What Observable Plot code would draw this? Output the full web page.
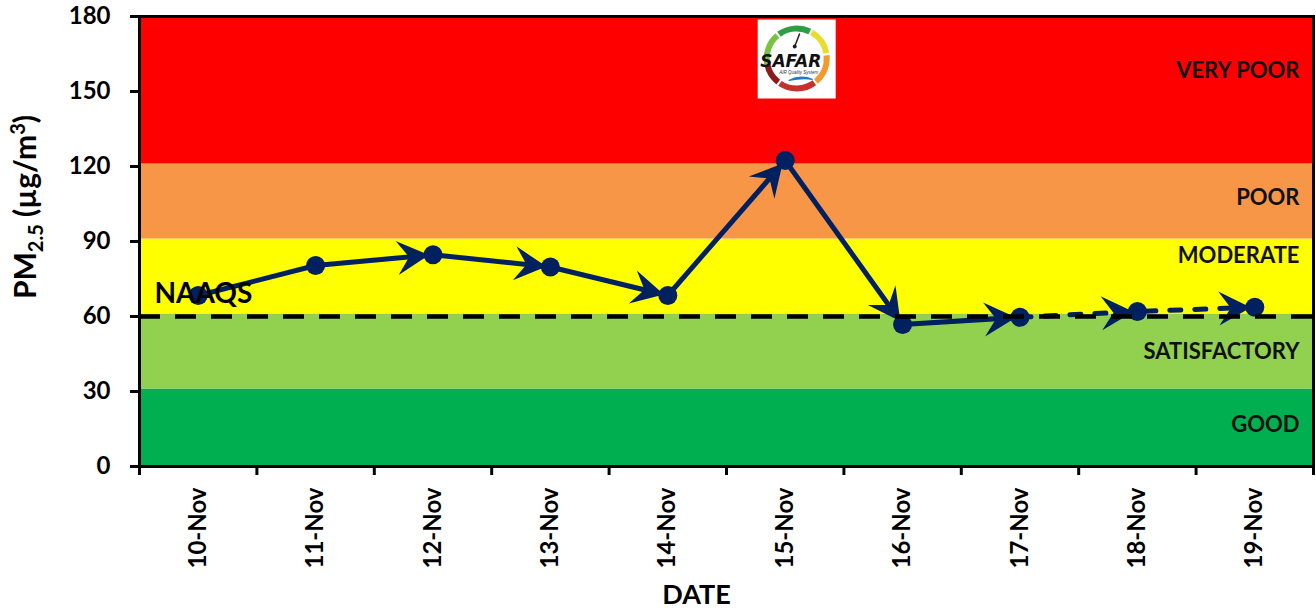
<!DOCTYPE html>
<html><head><meta charset="utf-8">
<script src="https://cdn.jsdelivr.net/npm/d3@7"></script>
<script src="https://cdn.jsdelivr.net/npm/@observablehq/plot@0.6"></script>
<style>
body{margin:0;background:#fff;}
svg{display:block;}
</style>
</head><body><div id="chart"></div>
<script>
// ---- data ----
const dates = ["10-Nov","11-Nov","12-Nov","13-Nov","14-Nov","15-Nov","16-Nov","17-Nov","18-Nov","19-Nov"];
const pm25 = [68.4, 80.4, 84.7, 79.8, 68.4, 122.4, 56.8, 59.7, 62.0, 63.7];
const forecastFrom = 7; // index from which the line is dashed (forecast)
const bandNames = ["GOOD","SATISFACTORY","MODERATE","POOR","VERY POOR"];
const bandLow = [0, 31, 61, 91, 121];
const bandHigh = [31, 61, 91, 121, 180];
const bandColors = ["#00B050","#92D050","#FFFF00","#F79646","#FF0000"];
const bandLabelY = [16.8, 46, 84.4, 107.6, 158.4];
const naaqs = 60;
const naaqsLabel = "NAAQS";
const yTicks = [0, 30, 60, 90, 120, 150, 180];

// ---- derived tables ----
const navy = "#002060";
const rows = dates.map((d, i) => ({i, date: d, v: pm25[i]}));
const bands = bandNames.map((name, k) => ({name, lo: bandLow[k], hi: bandHigh[k], color: bandColors[k], ly: bandLabelY[k]}));
const arrowSegs = rows.slice(1, -1).map((r, k) => ({x1: r.i, y1: r.v, x2: rows[k + 2].i, y2: rows[k + 2].v}));
const xBounds = d3.range(-0.5, dates.length, 1);
const font = "Lato, 'Open Sans', sans-serif";

const plot = Plot.plot({
  width: 1316, height: 614,
  marginLeft: 139, marginRight: 3, marginTop: 16, marginBottom: 148,
  style: {fontFamily: font, background: "white", color: "black"},
  x: {domain: [-0.5, dates.length - 0.5]},
  y: {domain: [0, 180]},
  color: {type: "identity"},
  marks: [
    Plot.rect(bands, {y1: "lo", y2: "hi", fill: "color"}),
    Plot.line(rows.slice(0, forecastFrom + 1), {x: "i", y: "v", stroke: navy, strokeWidth: 5}),
    Plot.line(rows.slice(forecastFrom), {x: "i", y: "v", stroke: navy, strokeWidth: 5, strokeDasharray: "11,14", strokeLinecap: "round"}),
    Plot.link(arrowSegs, {x1: "x1", y1: "y1", x2: "x2", y2: "y2", stroke: "none"}),
    Plot.dot(rows, {x: "i", y: "v", r: 9.5, fill: navy}),
    Plot.ruleY([naaqs], {stroke: "black", strokeWidth: 4.5, strokeDasharray: "21,15"}),
    Plot.text([naaqsLabel], {y: naaqs, text: d => d, frameAnchor: "left", textAnchor: "start", dx: 15, dy: -22, fontSize: 28, fontWeight: "bold", fill: "black"}),
    Plot.text(bands, {y: "ly", text: "name", frameAnchor: "right", textAnchor: "end", dx: -14, fontSize: 22, fontWeight: "bold", fill: "#111"}),
    Plot.frame({stroke: "black", strokeWidth: 3}),
    Plot.axisY({ticks: yTicks, tickSize: 9, tickPadding: 20, fontSize: 24, fontWeight: "bold", strokeWidth: 3, label: null}),
    Plot.axisX({ticks: xBounds, tickSize: 9, tickFormat: () => "", strokeWidth: 3, label: null}),
    Plot.axisX({ticks: d3.range(dates.length), tickSize: 0, tickPadding: 21, tickRotate: -90, tickFormat: i => dates[i], fontSize: 24, fontWeight: "bold", label: null}),
    Plot.text(["DATE"], {text: d => d, frameAnchor: "bottom", dx: -30, dy: 137, fontSize: 27, fontWeight: "bold", fill: "black"})
  ]
});
document.getElementById("chart").append(plot);

const svg = d3.select(plot);
const xs = plot.scale("x"), ys = plot.scale("y");

// stealth arrowheads on the connecting segments
const defs = svg.insert("defs", ":first-child");
defs.append("marker")
  .attr("id", "stealth").attr("markerUnits", "userSpaceOnUse")
  .attr("viewBox", "-40 -20 50 40").attr("markerWidth", 50).attr("markerHeight", 40)
  .attr("refX", 0).attr("refY", 0).attr("orient", "auto").attr("overflow", "visible")
  .append("path").attr("d", "M-4,0 L-36,-17 L-24,0 L-36,17 Z")
  .attr("fill", navy).attr("stroke", "none").attr("stroke-dasharray", "none");
svg.selectAll('g[aria-label="link"] path').attr("marker-end", "url(#stealth)");

// y-axis title with sub/superscripts
const yt = svg.append("text")
  .attr("transform", `translate(36,${(ys.apply(180) + ys.apply(0)) / 2 - 34}) rotate(-90)`)
  .attr("text-anchor", "middle").attr("font-family", font).attr("font-weight", "bold")
  .attr("font-size", 30).attr("fill", "black");
yt.append("tspan").text("PM");
yt.append("tspan").attr("font-size", 20).attr("dy", 7).text("2.5");
yt.append("tspan").attr("dy", -7).text(" (µg/m");
yt.append("tspan").attr("font-size", 20).attr("dy", -11).text("3");
yt.append("tspan").attr("dy", 11).text(")");

// SAFAR logo (decorative)
const cx = xs.apply(5) + 12, cy = ys.apply(163);
const logo = svg.append("g").attr("transform", `translate(${cx},${cy})`);
logo.append("rect").attr("x", -39).attr("y", -39).attr("width", 78).attr("height", 79).attr("fill", "white");
const arc = d3.arc().innerRadius(27).outerRadius(33);
const segs = [[-100, -40, "#7cc242"], [-36, 26, "#2e9e44"], [30, 80, "#e8dc2e"], [84, 140, "#f39a2a"], [144, 214, "#c8302c"], [218, 258, "#8e1b1b"]];
segs.forEach(([a, b, c]) => logo.append("path").attr("d", arc({startAngle: a * Math.PI / 180, endAngle: b * Math.PI / 180})).attr("fill", c));
logo.append("line").attr("x1", 3).attr("y1", -25).attr("x2", -2).attr("y2", -12).attr("stroke", "#222").attr("stroke-width", 1.5);
logo.append("circle").attr("cx", -2).attr("cy", -12).attr("r", 2).attr("fill", "#222");
logo.append("text").attr("x", -6).attr("y", 8).attr("text-anchor", "middle").attr("font-family", "'DejaVu Sans', sans-serif")
  .attr("font-style", "italic").attr("font-weight", "bold").attr("font-size", 17).attr("fill", "#111").text("SAFAR");
logo.append("text").attr("x", 2).attr("y", 15).attr("text-anchor", "middle").attr("font-family", "sans-serif")
  .attr("font-style", "italic").attr("font-size", 4.5).attr("fill", "#333").text("AIR Quality System");
logo.append("path").attr("d", "M-8,22 Q4,16 16,21 Q6,19 -8,22 Z").attr("fill", "#1e78c8").attr("stroke", "#1e78c8").attr("stroke-width", 1.2);
</script>
</body></html>
